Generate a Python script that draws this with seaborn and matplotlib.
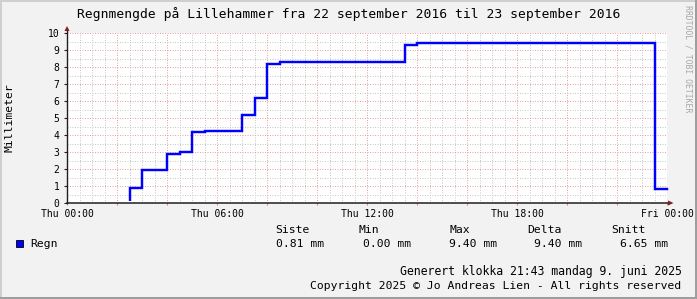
import matplotlib
matplotlib.use("Agg")
import matplotlib.pyplot as plt
import matplotlib.patches as mpatches
from matplotlib.lines import Line2D
import seaborn as sns
import pandas as pd

# ---------------- data ----------------
title = "Regnmengde på Lillehammer fra 22 september 2016 til 23 september 2016"
y_label = "Millimeter"
series_name = "Regn"
# step start times (hours since Thu 00:00) and rain values (mm)
hours = [0, 2.5, 3, 4, 4.5, 5, 5.5, 7, 7.5, 8, 8.5, 13.5, 14, 23.5]
rain_mm = [0, 0.9, 1.95, 2.9, 3.0, 4.2, 4.25, 5.2, 6.2, 8.15, 8.3, 9.3, 9.4, 0.81]
period_end = 24
x_tick_hours = [0, 6, 12, 18, 24]
x_tick_labels = ["Thu 00:00", "Thu 06:00", "Thu 12:00", "Thu 18:00", "Fri 00:00"]
y_ticks = [0, 1, 2, 3, 4, 5, 6, 7, 8, 9, 10]
stat_names = ["Siste", "Min", "Max", "Delta", "Snitt"]
stat_values = ["0.81 mm", "0.00 mm", "9.40 mm", "9.40 mm", "6.65 mm"]
footer_lines = ["Generert klokka 21:43 mandag 9. juni 2025",
                "Copyright 2025 © Jo Andreas Lien - All rights reserved"]
watermark = "RRDTOOL / TOBI OETIKER"

# ---------------- style ----------------
plt.rcParams['font.family'] = ['DejaVu Sans Mono']
W, H = 697, 299
BG = '#F2F2F2'
BLUE = '#0000FF'
AXIS = '#1F1F1F'
ARROW = '#801F1F'
GRID = '#C9C9C9'
MGRID = '#E6A3A3'


def fx(x):
    return x / W


def fy(y):
    return 1 - y / H


fig = plt.figure(figsize=(W / 100, H / 100), dpi=100)
fig.patch.set_facecolor(BG)

# frame shading
fig.add_artist(mpatches.Rectangle((0, 0), fx(2), 1, transform=fig.transFigure,
                                  color='#CFCFCF', lw=0, zorder=1))
fig.add_artist(mpatches.Rectangle((0, fy(2)), 1, 2 / H, transform=fig.transFigure,
                                  color='#CFCFCF', lw=0, zorder=1))
fig.add_artist(mpatches.Rectangle((fx(695), 0), fx(2), 1, transform=fig.transFigure,
                                  color='#9E9E9E', lw=0, zorder=1))
fig.add_artist(mpatches.Rectangle((0, 0), 1, 2 / H, transform=fig.transFigure,
                                  color='#9E9E9E', lw=0, zorder=1))

ax = fig.add_axes([fx(67), fy(203), fx(600), 170 / H])
ax.set_facecolor('white')

df = pd.DataFrame({'hour': hours + [period_end], 'mm': rain_mm + [rain_mm[-1]]})
sns.lineplot(data=df, x='hour', y='mm', drawstyle='steps-post', color=BLUE,
             lw=1.75, ax=ax, legend=False, estimator=None, sort=True)
# keep the zero level hidden under the x axis, like the reference
clip = mpatches.Rectangle((0, 1.7 / 170), 1.02, 1.0, transform=ax.transAxes)
for ln in ax.lines:
    ln.set_clip_path(clip)
    ln.set_solid_joinstyle('miter')

ax.set_xlim(0, period_end)
ax.set_ylim(0, 10)
ax.set_xlabel('')
ax.set_ylabel('')

major_x = list(range(0, period_end + 1, 2))
ax.set_xticks(major_x, labels=[x_tick_labels[x_tick_hours.index(h)] if h in x_tick_hours else ''
                               for h in major_x])
ax.set_xticks([h / 2 for h in range(0, 2 * period_end + 1)], minor=True)
ax.set_yticks(y_ticks, labels=[str(v) for v in y_ticks])
ax.set_yticks([v / 2 for v in range(0, 21)], minor=True)

ax.tick_params(axis='x', which='major', direction='out', length=1.5, width=0.8,
               color='#D88080', pad=2.5, labelsize=7, labelcolor='black')
ax.tick_params(axis='y', which='major', direction='out', length=2.5, width=0.8,
               color=AXIS, pad=3.0, labelsize=7, labelcolor='black')
ax.tick_params(which='minor', length=0)

ax.grid(which='minor', color=GRID, lw=0.72, ls=(0, (1, 1.5)))
ax.grid(which='major', color=MGRID, lw=0.72, ls=(0, (1, 1.5)))
ax.set_axisbelow(True)
for s in ax.spines.values():
    s.set_visible(False)

# axes lines with arrows
fig.add_artist(Line2D([fx(67), fx(669)], [fy(203), fy(203)], transform=fig.transFigure,
                      color=AXIS, lw=1.1, zorder=5))
fig.add_artist(Line2D([fx(67), fx(67)], [fy(203), fy(29)], transform=fig.transFigure,
                      color=AXIS, lw=1.0, zorder=5))
fig.add_artist(mpatches.Polygon([(fx(668), fy(200.5)), (fx(673.5), fy(203)), (fx(668), fy(205.5))],
                                closed=True, transform=fig.transFigure, color=ARROW, lw=0, zorder=6))
fig.add_artist(mpatches.Polygon([(fx(64.5), fy(31)), (fx(67), fy(26)), (fx(69.5), fy(31))],
                                closed=True, transform=fig.transFigure, color=ARROW, lw=0, zorder=6))

# texts
fig.text(fx(348.5), fy(18), title, ha='center', va='baseline', fontsize=9.4, color='black')
fig.text(fx(10), fy(117.5), y_label, ha='center', va='center', rotation=90,
         fontsize=8.2, color='black')
fig.text(fx(688), fy(59), watermark, ha='center', va='center', rotation=270,
         fontsize=5.9, color='#A8A8A8')

# legend
fig.add_artist(mpatches.Rectangle((fx(15.5), fy(247)), fx(7.5), 7.5 / H, transform=fig.transFigure,
                                  facecolor=BLUE, edgecolor='black', lw=0.6, zorder=5))
fig.text(fx(30.3), fy(247), series_name, ha='left', va='baseline', fontsize=8.2)
header_x = [275.0, 358.6, 449.6, 527.2, 611.6]
value_x = [276.4, 362.9, 448.6, 534.3, 620.4]
for name, hx in zip(stat_names, header_x):
    fig.text(fx(hx), fy(233.3), name, ha='left', va='baseline', fontsize=8.2)
for val, vx in zip(stat_values, value_x):
    fig.text(fx(vx), fy(247), val, ha='left', va='baseline', fontsize=8.2)

fig.text(fx(681.5), fy(275), footer_lines[0], ha='right', va='baseline', fontsize=8.3)
fig.text(fx(681.5), fy(289.3), footer_lines[1], ha='right', va='baseline', fontsize=8.2)

fig.savefig('out.png', dpi=100, facecolor=BG)
